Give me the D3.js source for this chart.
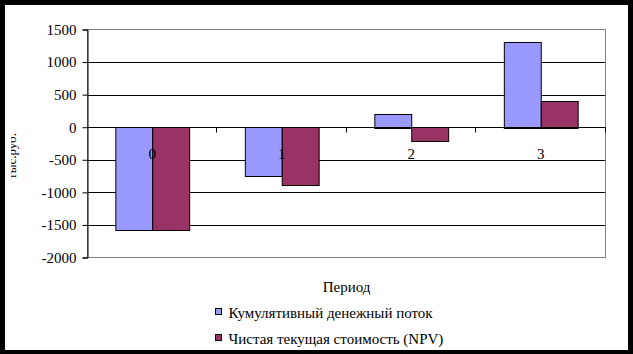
<!DOCTYPE html>
<html>
<head>
<meta charset="utf-8">
<script src="https://cdn.jsdelivr.net/npm/d3@7"></script>
<style>
  html, body { margin: 0; padding: 0; background: #000; }
  svg { display: block; }
</style>
</head>
<body>
<svg id="chart"></svg>
<script>
// data
const periods = ["0", "1", "2", "3"];
const cumulative = [-1580, -750, 210, 1315];
const npv = [-1580, -890, -220, 410];
const seriesNames = ["Кумулятивный денежный поток", "Чистая текущая стоимость (NPV)"];
const seriesColors = ["#9999FF", "#993366"];
const yTicks = [-2000, -1500, -1000, -500, 0, 500, 1000, 1500];

const width = 633, height = 354;
const plot = { left: 87.5, top: 29.5, right: 605.5, bottom: 257.5 };
const font = "'Liberation Serif', 'DejaVu Serif', serif";

const svg = d3.select("#chart")
  .attr("width", width)
  .attr("height", height)
  .attr("viewBox", [0, 0, width, height])
  .style("font-family", font);

// white page inside the black frame
svg.append("rect")
  .attr("x", 5).attr("y", 5)
  .attr("width", 623).attr("height", 345)
  .attr("fill", "#fff");

const x = d3.scaleBand()
  .domain(periods)
  .range([plot.left, plot.right])
  .paddingInner(0.43)
  .paddingOuter(0.215);

const xs = d3.scaleBand()
  .domain([0, 1])
  .range([0, x.bandwidth()]);

const y = d3.scaleLinear()
  .domain([-2000, 1500])
  .range([plot.bottom, plot.top]);

// gridlines
svg.append("g")
  .selectAll("line")
  .data(yTicks.filter(d => d > -2000 && d < 1500))
  .join("line")
  .attr("x1", plot.left).attr("x2", plot.right)
  .attr("y1", d => Math.round(y(d)) + 0.5)
  .attr("y2", d => Math.round(y(d)) + 0.5)
  .attr("stroke", "#000");

// plot border (grey)
svg.append("rect")
  .attr("x", plot.left).attr("y", plot.top)
  .attr("width", plot.right - plot.left)
  .attr("height", plot.bottom - plot.top)
  .attr("fill", "none")
  .attr("stroke", "#808080");

// bars
const rows = periods.map((p, i) => ({ p, vals: [cumulative[i], npv[i]] }));
svg.append("g")
  .selectAll("g")
  .data(rows)
  .join("g")
  .attr("transform", d => `translate(${x(d.p)},0)`)
  .selectAll("rect")
  .data(d => d.vals.map((v, k) => ({ k, v })))
  .join("rect")
  .attr("x", d => xs(d.k) + 0.5)
  .attr("y", d => Math.round(Math.min(y(d.v), y(0))) + 0.5)
  .attr("width", xs.bandwidth())
  .attr("height", d => Math.round(Math.abs(y(d.v) - y(0))))
  .attr("fill", d => seriesColors[d.k])
  .attr("stroke", "#000");

// y axis
svg.append("g")
  .attr("transform", `translate(${plot.left},0)`)
  .call(d3.axisLeft(y).tickValues(yTicks).tickSize(5).tickFormat(d => String(d)))
  .call(g => g.select(".domain").attr("stroke", "#000"))
  .call(g => g.selectAll(".tick text")
    .style("font-family", font)
    .style("font-size", "15px")
    .attr("fill", "#000")
    .attr("x", -11));

// zero axis with tick marks between categories
const zeroY = Math.round(y(0)) + 0.5;
svg.append("line")
  .attr("x1", plot.left).attr("x2", plot.right)
  .attr("y1", zeroY).attr("y2", zeroY)
  .attr("stroke", "#000");
const step = x.step();
svg.append("g")
  .selectAll("line")
  .data(periods)
  .join("line")
  .attr("x1", (d, i) => Math.round(plot.left + step * (i + 1)) - 0.5)
  .attr("x2", (d, i) => Math.round(plot.left + step * (i + 1)) - 0.5)
  .attr("y1", zeroY).attr("y2", zeroY + 5)
  .attr("stroke", "#000");

// category labels, below the zero line
svg.append("g")
  .selectAll("text")
  .data(periods)
  .join("text")
  .attr("x", d => x(d) + x.bandwidth() / 2)
  .attr("y", 159)
  .attr("text-anchor", "middle")
  .attr("font-size", 15)
  .attr("fill", "#000")
  .text(d => d);

// x axis title
svg.append("text")
  .attr("x", 346.5)
  .attr("y", 292)
  .attr("text-anchor", "middle")
  .attr("font-size", 15)
  .text("Период");

// y axis title, clipped at the left like the original
svg.append("clipPath").attr("id", "yclip")
  .append("rect").attr("x", 11).attr("y", 0).attr("width", 40).attr("height", height);
svg.append("g")
  .attr("clip-path", "url(#yclip)")
  .append("text")
  .attr("transform", "translate(16,133) rotate(-90)")
  .attr("text-anchor", "end")
  .attr("font-size", 13)
  .text("тыс.руб.");

// legend
const legend = svg.append("g")
  .selectAll("g")
  .data(seriesNames)
  .join("g")
  .attr("transform", (d, i) => `translate(215.5,${308.5 + i * 26})`);
legend.append("rect")
  .attr("width", 6).attr("height", 6)
  .attr("fill", (d, i) => seriesColors[i])
  .attr("stroke", "#000");
legend.append("text")
  .attr("x", 13)
  .attr("y", 9)
  .attr("font-size", 15)
  .text(d => d);
</script>
</body>
</html>
